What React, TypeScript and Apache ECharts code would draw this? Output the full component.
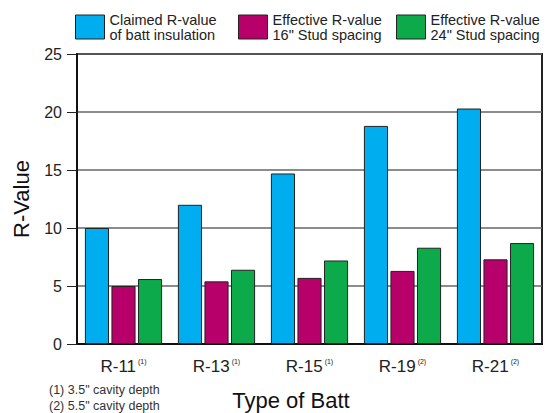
import React, { useEffect, useRef } from "react";
import * as echarts from "echarts";

const categories = ["R-11", "R-13", "R-15", "R-19", "R-21"];
const footRefs = ["(1)", "(1)", "(1)", "(2)", "(2)"];
const claimed = [10, 12, 14.7, 18.8, 20.3];
const eff16 = [5.0, 5.4, 5.7, 6.3, 7.3];
const eff24 = [5.6, 6.4, 7.2, 8.3, 8.7];
const seriesNames = ["Claimed", "Eff16", "Eff24"];
const legendTexts = [
  "Claimed R-value\nof batt insulation",
  "Effective R-value\n16\" Stud spacing",
  "Effective R-value\n24\" Stud spacing",
];
const footnotes = ["(1) 3.5\" cavity depth", "(2) 5.5\" cavity depth"];
const colors = ["#00AEEF", "#B8006B", "#0DAA4B"];

const FONT = "Liberation Sans, Arial, Helvetica, sans-serif";

export default function App() {
  const ref = useRef<HTMLDivElement>(null);
  useEffect(() => {
    document.body.style.margin = "0";
    if (!ref.current) return;
    const chart = echarts.init(ref.current, null, { renderer: "svg" });
    const data = [claimed, eff16, eff24];
    const legendLefts = [75, 238, 396];
    const option: any = {
      animation: false,
      backgroundColor: "#fff",
      textStyle: { fontFamily: FONT },
      grid: {
        left: 77,
        right: 14,
        top: 54,
        bottom: 69,
        containLabel: false,
        outerBoundsMode: "none",
        show: true,
        borderColor: "#222",
        borderWidth: 2,
        backgroundColor: "transparent",
      },
      legend: seriesNames.map((n, i) => ({
        data: [n],
        left: legendLefts[i],
        top: 12,
        padding: 0,
        itemWidth: 29,
        itemHeight: 24,
        itemGap: 4,
        icon: "rect",
        formatter: () => legendTexts[i],
        textStyle: {
          fontSize: 14.5,
          color: "#222",
          fontFamily: FONT,
          lineHeight: 15,
        },
        itemStyle: { borderColor: "#222", borderWidth: 1 },
      })),
      xAxis: {
        type: "category",
        data: categories,
        axisLine: { show: true, lineStyle: { color: "#111", width: 2 } },
        axisTick: { show: false },
        axisLabel: {
          interval: 0,
          margin: 14,
          formatter: (v: string, idx: number) => `{a|${v}}{s|${footRefs[idx]}}`,
          rich: {
            a: { fontSize: 17, color: "#222", fontFamily: FONT },
            s: {
              fontSize: 7,
              color: "#222",
              fontFamily: FONT,
              padding: [0, 0, 10, 2],
            },
          },
        },
        name: "Type of Batt",
        nameLocation: "middle",
        nameGap: 45,
        nameTextStyle: {
          fontSize: 22,
          color: "#111",
          fontFamily: FONT,
          padding: [0, 37, 0, 0],
        },
      },
      yAxis: {
        type: "value",
        min: 0,
        max: 25,
        interval: 5,
        axisLine: { show: true, lineStyle: { color: "#111", width: 2 } },
        axisTick: {
          show: true,
          length: 10,
          lineStyle: { color: "#222", width: 1 },
        },
        axisLabel: {
          fontSize: 16,
          color: "#222",
          margin: 15,
          fontFamily: FONT,
        },
        splitLine: { show: true, lineStyle: { color: "#666", width: 1.5 } },
        name: "R-Value",
        nameLocation: "middle",
        nameGap: 45,
        nameTextStyle: { fontSize: 22, color: "#111", fontFamily: FONT },
      },
      series: seriesNames.map((n, i) => ({
        name: n,
        type: "bar",
        data: data[i],
        barCategoryGap: "17%",
        barGap: "10%",
        itemStyle: { color: colors[i], borderColor: "#222", borderWidth: 1 },
      })),
      graphic: footnotes.map((t, i) => ({
        type: "text",
        left: 49,
        top: 383 + i * 16,
        style: { text: t, fontSize: 12.5, fill: "#333", fontFamily: FONT },
      })),
    };
    chart.setOption(option);
    return () => chart.dispose();
  }, []);
  return <div ref={ref} style={{ width: 556, height: 413 }} />;
}
